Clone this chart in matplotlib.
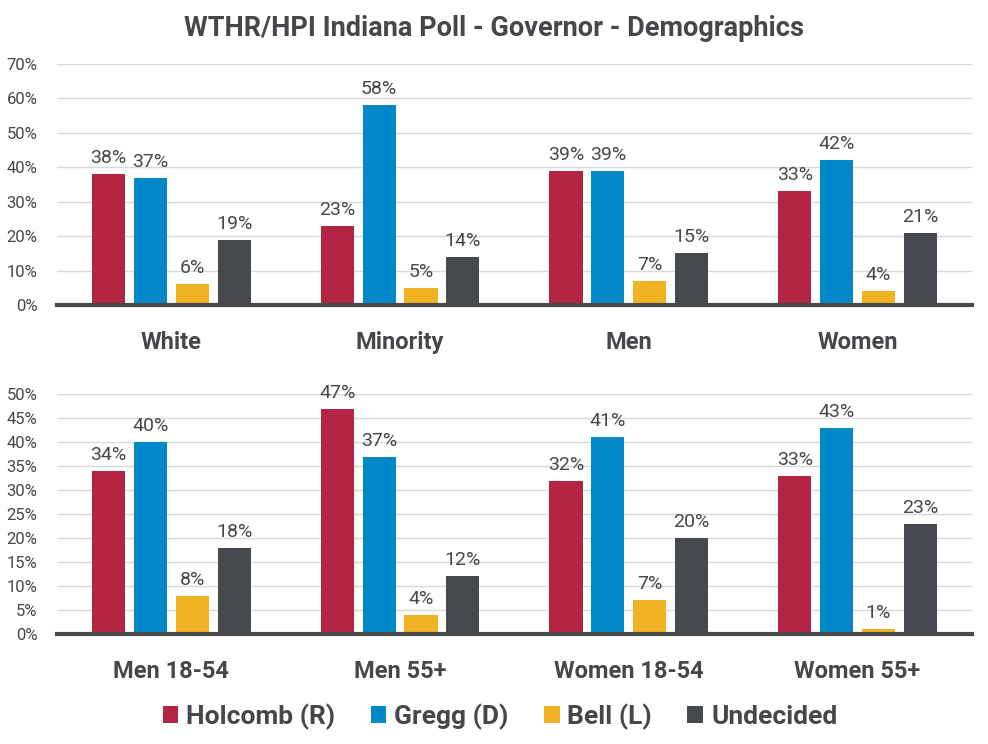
import matplotlib
matplotlib.use("Agg")
import matplotlib.pyplot as plt
import numpy as np
from matplotlib.ticker import FuncFormatter
from matplotlib.patches import Patch

plt.rcParams['font.family'] = ['Roboto', 'DejaVu Sans']

title = "WTHR/HPI Indiana Poll - Governor - Demographics"
series = ["Holcomb (R)", "Gregg (D)", "Bell (L)", "Undecided"]
colors = ["#B32542", "#0088C9", "#F0B323", "#46494E"]

top_groups = ["White", "Minority", "Men", "Women"]
top_values = [
    [38, 23, 39, 33],   # Holcomb
    [37, 58, 39, 42],   # Gregg
    [6, 5, 7, 4],       # Bell
    [19, 14, 15, 21],   # Undecided
]
top_ticks = [0, 10, 20, 30, 40, 50, 60, 70]

bot_groups = ["Men 18-54", "Men 55+", "Women 18-54", "Women 55+"]
bot_values = [
    [34, 47, 32, 33],
    [40, 37, 41, 43],
    [8, 4, 7, 1],
    [18, 12, 20, 23],
]
bot_ticks = [0, 5, 10, 15, 20, 25, 30, 35, 40, 45, 50]

text_color = "#45474B"

fig = plt.figure(figsize=(9.88, 7.44), dpi=100)
fig.patch.set_facecolor("white")

ax1 = fig.add_axes([0.0577, 0.590, 0.926, 0.324])
ax2 = fig.add_axes([0.0577, 0.148, 0.926, 0.322])

pitch = 0.183
width = 0.145

def draw(ax, groups, values, ticks):
    x = np.arange(len(groups))
    for i, (vals, c) in enumerate(zip(values, colors)):
        pos = x + (i - 1.5) * pitch
        bars = ax.bar(pos, vals, width=width, color=c, zorder=3)
        for b, v in zip(bars, vals):
            ax.annotate(f"{v}%", (b.get_x() + b.get_width() / 2, v),
                        xytext=(0, 5), textcoords="offset points",
                        ha="center", va="bottom", fontsize=14, color=text_color)
    ax.set_xlim(-0.5, len(groups) - 0.5)
    ax.set_ylim(0, ticks[-1])
    ax.set_yticks(ticks)
    ax.yaxis.set_major_formatter(FuncFormatter(lambda v, p: f"{int(v)}%"))
    ax.set_xticks(x)
    ax.set_xticklabels(groups, fontsize=17, fontweight="bold", color=text_color)
    ax.tick_params(axis="x", length=0, pad=19)
    ax.tick_params(axis="y", length=0, pad=14, labelsize=12, labelcolor=text_color)
    ax.grid(axis="y", color="#D9D9D9", linewidth=1, zorder=0)
    for s in ["top", "right", "left"]:
        ax.spines[s].set_visible(False)
    ax.spines["bottom"].set_color("#4A4A4A")
    ax.spines["bottom"].set_linewidth(3)
    ax.spines["bottom"].set_zorder(4)

draw(ax1, top_groups, top_values, top_ticks)
draw(ax2, bot_groups, bot_values, bot_ticks)

fig.text(0.5, 0.962, title, ha="center", va="center", fontsize=19.5,
         fontweight="bold", color=text_color)

handles = [Patch(facecolor=c, edgecolor="none") for c in colors]
fig.legend(handles, series, loc="center", bbox_to_anchor=(0.506, 0.037), ncol=4,
           frameon=False, prop={"size": 19, "weight": "bold"},
           handlelength=0.6, handleheight=0.6, handletextpad=0.3, columnspacing=1.33,
           labelcolor=text_color)

fig.savefig("out.png", dpi=100, facecolor="white")
